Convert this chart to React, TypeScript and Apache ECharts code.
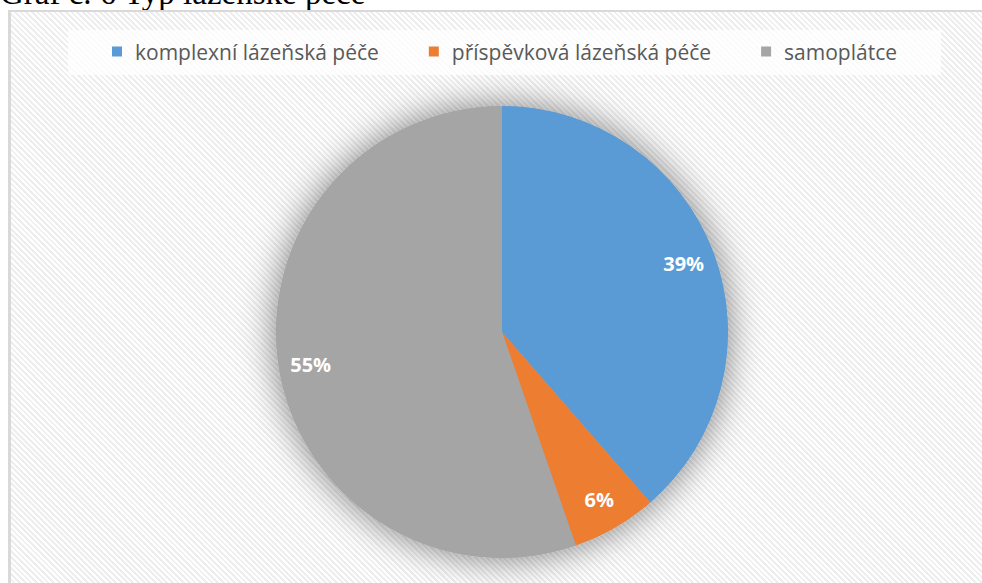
import React, { useEffect, useRef } from "react";
import * as echarts from "echarts";

const categories = ["komplexní lázeňská péče", "příspěvková lázeňská péče", "samoplátce"];
const shares = [38.6, 6.1, 55.3];
const colors = ["#5B9BD5", "#ED7D31", "#A5A5A5"];
const titleText = "Graf č. 6 Typ lázeňské péče";

export default function App() {
  const ref = useRef<HTMLDivElement>(null);
  useEffect(() => {
    if (!ref.current) return;
    const chart = echarts.init(ref.current, undefined, { renderer: "svg" });
    const data = categories.map((name, i) => ({ name, value: shares[i], itemStyle: { color: colors[i] } }));
    const center = [502, 332];
    chart.setOption({
      animation: false,
      backgroundColor: "transparent",
      legend: {
        data: categories,
        top: 30,
        left: 68,
        padding: [11, 44, 13, 44],
        backgroundColor: "rgba(255,255,255,0.75)",
        icon: "rect",
        itemWidth: 10,
        itemHeight: 10,
        itemGap: 50,
        textStyle: { fontFamily: "Open Sans", fontSize: 21, color: "#595959", padding: [0, 0, 0, 8] },
        selectedMode: false,
      },
      series: [
        {
          type: "pie",
          silent: true,
          center,
          radius: [0, 226],
          startAngle: 90,
          label: { show: false },
          labelLine: { show: false },
          itemStyle: { color: "#A5A5A5", shadowBlur: 36, shadowColor: "rgba(0,0,0,0.5)" },
          data: [{ name: "_shadow", value: 1 }],
          legendHoverLink: false,
        },
        {
          type: "pie",
          center,
          radius: [0, 226],
          startAngle: 90,
          clockwise: true,
          label: { show: false },
          labelLine: { show: false },
          itemStyle: { borderWidth: 0 },
          data,
        },
        {
          type: "pie",
          silent: true,
          center,
          radius: [156, 226],
          startAngle: 90,
          clockwise: true,
          itemStyle: { color: "transparent", borderWidth: 0 },
          label: {
            show: true,
            position: "inside",
            color: "#ffffff",
            fontFamily: "Open Sans",
            fontWeight: "bold",
            fontSize: 20,
            formatter: (p: any) => Math.round(p.value) + "%",
          },
          labelLine: { show: false },
          data: categories.map((name, i) => ({ name: name + " ", value: shares[i] })),
        },
      ],
    });
    return () => chart.dispose();
  }, []);

  return (
    <div style={{ position: "fixed", left: 0, top: 0, width: 982, height: 583, overflow: "hidden", background: "#fff" }}>
      <div
        style={{
          position: "absolute",
          left: 0,
          top: -23,
          fontFamily: "'Liberation Serif', serif",
          fontSize: 33,
          lineHeight: "33px",
          color: "#000",
          whiteSpace: "nowrap",
        }}
      >
        {titleText}
      </div>
      <div
        style={{
          position: "absolute",
          left: 8,
          top: 10,
          width: 1000,
          height: 600,
          borderLeft: "3px solid #d9d9d9",
          borderTop: "2px solid #d9d9d9",
          background: "repeating-linear-gradient(45deg, #ffffff 0px, #ffffff 2px, #eeeeee 2px, #eeeeee 4px)",
        }}
      />
      <div ref={ref} style={{ position: "absolute", left: 0, top: 0, width: 982, height: 583 }} />
    </div>
  );
}
